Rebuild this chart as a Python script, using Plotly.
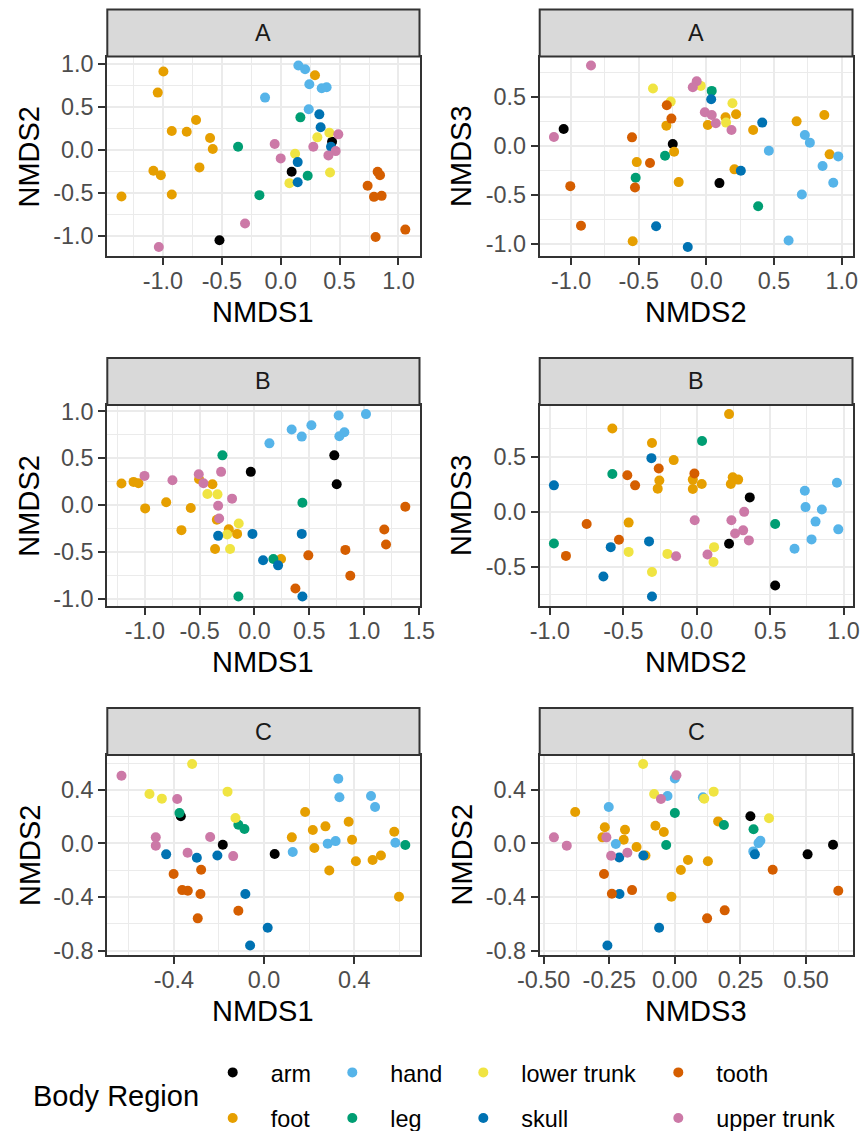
import plotly.graph_objects as go

# ---------------- data ----------------
REGIONS = ["arm", "foot", "hand", "leg", "lower trunk", "skull", "tooth", "upper trunk"]
COLORS = {"arm": "#000000", "foot": "#E69F00", "hand": "#56B4E9", "leg": "#009E73",
          "lower trunk": "#F0E442", "skull": "#0072B2", "tooth": "#D55E00",
          "upper trunk": "#CC79A7"}

# Group A: NMDS1 vs NMDS2
A_12 = {
    "arm": ([0.436, 0.093, -0.520], [0.097, -0.253, -1.051]),
    "foot": ([-0.996, -1.044, -0.719, -0.925, -0.798, -0.600, -0.577, -0.690, -1.081, -1.018, -0.925, -1.352, 0.291],
             [0.914, 0.669, 0.350, 0.222, 0.214, 0.140, 0.012, -0.202, -0.241, -0.292, -0.518, -0.541, 0.872]),
    "hand": ([0.150, 0.207, 0.243, 0.348, 0.390, -0.133, 0.238], [0.984, 0.942, 0.767, 0.720, 0.732, 0.611, 0.475]),
    "leg": ([0.167, -0.362, 0.229, -0.181], [0.381, 0.039, -0.300, -0.525]),
    "lower trunk": ([0.413, 0.311, 0.122, 0.419, 0.074], [0.202, 0.148, -0.043, -0.261, -0.385]),
    "skull": ([0.328, 0.339, 0.427, 0.144, 0.144], [0.416, 0.265, 0.039, -0.140, -0.374]),
    "tooth": ([0.823, 0.843, 0.738, 0.792, 0.857, 0.806, 1.058], [-0.253, -0.292, -0.416, -0.545, -0.533, -1.012, -0.926]),
    "upper trunk": ([0.489, -0.051, 0.277, 0.467, 0.405, 0.000, -0.303, -1.035],
                    [0.183, 0.070, 0.039, -0.012, -0.062, -0.097, -0.856, -1.128]),
}
# Group A: NMDS2 vs NMDS3
A_23 = {
    "arm": ([-1.055, -0.249, 0.096], [0.170, 0.017, -0.381]),
    "foot": ([-0.296, -0.239, -0.515, -0.205, -0.545, 0.010, 0.141, 0.219, 0.345, 0.207, 0.666, 0.871, 0.910],
             [0.204, -0.061, -0.167, -0.371, -0.973, 0.211, 0.289, 0.320, 0.160, -0.241, 0.248, 0.313, -0.088]),
    "hand": ([0.461, 0.727, 0.764, 0.858, 0.974, 0.937, 0.705, 0.607],
             [-0.051, 0.109, 0.031, -0.207, -0.109, -0.378, -0.497, -0.966]),
    "leg": ([0.039, -0.306, -0.523, 0.382], [0.558, -0.102, -0.327, -0.616]),
    "lower trunk": ([-0.395, -0.264, -0.042, 0.192, 0.145], [0.582, 0.449, 0.609, 0.432, 0.235]),
    "skull": ([0.035, 0.412, 0.254, -0.372, -0.138], [0.473, 0.235, -0.255, -0.820, -1.031]),
    "tooth": ([-0.293, -0.259, -0.550, -0.417, -0.528, -1.006, -0.927], [0.412, 0.276, 0.085, -0.177, -0.425, -0.412, -0.816]),
    "upper trunk": ([-0.853, -1.127, -0.072, -0.101, -0.012, 0.039, 0.069, 0.185],
                    [0.816, 0.088, 0.656, 0.595, 0.340, 0.313, 0.228, 0.160]),
}
# Group B: NMDS1 vs NMDS2
B_12 = {
    "arm": ([-0.033, 0.729, 0.751], [0.354, 0.530, 0.222]),
    "foot": ([-1.213, -1.103, -1.058, -0.997, -0.805, -0.581, -0.666, -0.505, -0.383, -0.343, -0.234, -0.158, -0.359, 0.243],
             [0.229, 0.247, 0.233, -0.036, 0.029, -0.032, -0.268, 0.275, 0.222, -0.157, -0.258, -0.308, -0.469, -0.576]),
    "hand": ([0.137, 0.340, 0.432, 0.520, 0.769, 1.018, 0.775, 0.821], [0.658, 0.805, 0.730, 0.852, 0.955, 0.970, 0.733, 0.776]),
    "leg": ([-0.292, 0.438, 0.173, -0.146], [0.530, 0.025, -0.576, -0.977]),
    "lower trunk": ([-0.429, -0.337, -0.143, -0.249, -0.222], [0.118, 0.114, -0.197, -0.315, -0.469]),
    "skull": ([-0.331, -0.018, 0.432, 0.079, 0.216, 0.438], [-0.329, -0.308, -0.308, -0.590, -0.644, -0.977]),
    "tooth": ([1.377, 1.185, 1.201, 0.830, 0.492, 0.875, 0.374], [-0.018, -0.261, -0.422, -0.479, -0.537, -0.755, -0.891]),
    "upper trunk": ([-1.003, -0.748, -0.508, -0.465, -0.304, -0.204, -0.331, -0.322],
                    [0.311, 0.265, 0.329, 0.233, 0.354, 0.068, -0.007, -0.143]),
}
# Group B: NMDS2 vs NMDS3
B_23 = {
    "arm": ([0.361, 0.220, 0.534], [0.131, -0.289, -0.666]),
    "foot": ([-0.575, -0.305, -0.157, 0.220, -0.255, -0.266, -0.027, -0.027, 0.034, 0.245, 0.282, 0.232, -0.464],
             [0.754, 0.623, 0.468, 0.884, 0.283, 0.210, 0.292, 0.207, 0.252, 0.313, 0.292, 0.252, -0.097]),
    "hand": ([0.736, 0.741, 0.852, 0.809, 0.782, 0.666, 0.955, 0.964], [0.191, 0.043, 0.021, -0.088, -0.249, -0.334, 0.264, -0.158]),
    "leg": ([-0.973, -0.575, 0.036, 0.534], [-0.286, 0.343, 0.641, -0.109]),
    "lower trunk": ([-0.464, -0.200, -0.305, 0.118, 0.114], [-0.362, -0.380, -0.544, -0.319, -0.453]),
    "skull": ([-0.973, -0.309, -0.586, -0.636, -0.325, -0.305], [0.240, 0.486, -0.319, -0.584, -0.267, -0.766]),
    "tooth": ([-0.750, -0.891, -0.530, -0.473, -0.420, -0.259, -0.016], [-0.109, -0.398, -0.252, 0.331, 0.240, 0.392, 0.347]),
    "upper trunk": ([-0.014, 0.236, 0.323, 0.261, 0.316, 0.355, -0.141, 0.073],
                    [-0.076, -0.076, 0.000, -0.195, -0.167, -0.258, -0.401, -0.386]),
}
# Group C: NMDS1 vs NMDS2
C_12 = {
    "arm": ([-0.369, -0.183, 0.047], [0.202, -0.010, -0.080]),
    "foot": ([0.182, 0.123, 0.216, 0.272, 0.223, 0.375, 0.390, 0.407, 0.289, 0.481, 0.518, 0.577, 0.598],
             [0.234, 0.045, 0.100, 0.127, -0.035, 0.162, 0.027, -0.134, -0.202, -0.124, -0.090, 0.087, -0.398]),
    "hand": ([0.329, 0.334, 0.474, 0.492, 0.127, 0.282, 0.317, 0.582], [0.483, 0.344, 0.353, 0.271, -0.065, -0.002, 0.017, 0.005]),
    "leg": ([-0.375, -0.114, -0.087, 0.626], [0.227, 0.139, 0.107, -0.012]),
    "lower trunk": ([-0.319, -0.508, -0.453, -0.162, -0.127], [0.592, 0.368, 0.334, 0.386, 0.189]),
    "skull": ([-0.434, -0.298, -0.207, -0.083, 0.016, -0.062], [-0.082, -0.107, -0.090, -0.378, -0.630, -0.762]),
    "tooth": ([-0.401, -0.279, -0.363, -0.338, -0.282, -0.114, -0.294], [-0.229, -0.197, -0.349, -0.354, -0.378, -0.503, -0.560]),
    "upper trunk": ([-0.632, -0.385, -0.480, -0.480, -0.339, -0.239, -0.137], [0.505, 0.331, 0.045, -0.017, -0.070, 0.047, -0.095]),
}
# Group C: NMDS3 vs NMDS2
C_32 = {
    "arm": ([0.288, 0.506, 0.603], [0.202, -0.082, -0.010]),
    "foot": ([-0.380, -0.267, -0.276, -0.190, -0.195, -0.146, -0.112, -0.074, -0.042, 0.050, 0.023, 0.126, 0.165, -0.013],
             [0.234, 0.120, 0.045, 0.102, 0.027, -0.027, -0.090, 0.132, 0.085, -0.124, -0.199, -0.134, 0.164, -0.398]),
    "hand": ([-0.252, 0.000, -0.028, 0.107, -0.225, 0.299, 0.319, 0.326], [0.271, 0.485, 0.353, 0.344, -0.005, -0.060, 0.002, 0.020]),
    "leg": ([0.000, 0.187, 0.300, -0.033], [0.227, 0.137, 0.105, -0.012]),
    "lower trunk": ([-0.121, -0.079, 0.148, 0.112, 0.359], [0.592, 0.368, 0.386, 0.334, 0.187]),
    "skull": ([-0.212, -0.120, 0.305, -0.211, -0.060, -0.257], [-0.105, -0.090, -0.082, -0.378, -0.630, -0.762]),
    "tooth": ([-0.270, 0.373, -0.240, -0.163, 0.190, 0.123, 0.623], [-0.229, -0.197, -0.376, -0.349, -0.500, -0.560, -0.354]),
    "upper trunk": ([-0.461, -0.412, 0.006, -0.053, -0.261, -0.243, -0.181], [0.045, -0.017, 0.508, 0.331, 0.045, -0.092, -0.070]),
}

TICKS_1 = [-1.0, -0.5, 0.0, 0.5, 1.0]
TICKS_B1 = [-1.0, -0.5, 0.0, 0.5, 1.0, 1.5]
TICKS_A3 = [-1.0, -0.5, 0.0, 0.5]
TICKS_B3 = [-0.5, 0.0, 0.5]
TICKS_C1 = [-0.4, 0.0, 0.4]
TICKS_C2 = [-0.8, -0.4, 0.0, 0.4]
TICKS_C3 = [-0.50, -0.25, 0.00, 0.25, 0.50]

# (data, row, col, strip, xlabel, ylabel, xticks, yticks, xdec, ydec)
PANELS = [
    (A_12, 0, 0, "A", "NMDS1", "NMDS2", TICKS_1, TICKS_1, 1, 1),
    (A_23, 0, 1, "A", "NMDS2", "NMDS3", TICKS_1, TICKS_A3, 1, 1),
    (B_12, 1, 0, "B", "NMDS1", "NMDS2", TICKS_B1, TICKS_1, 1, 1),
    (B_23, 1, 1, "B", "NMDS2", "NMDS3", TICKS_1, TICKS_B3, 1, 1),
    (C_12, 2, 0, "C", "NMDS1", "NMDS2", TICKS_C1, TICKS_C2, 1, 1),
    (C_32, 2, 1, "C", "NMDS3", "NMDS2", TICKS_C3, TICKS_C2, 2, 1),
]

# ---------------- layout geometry (page pixels) ----------------
W, H = 863, 1131
COL_X = [(107.3, 419.5), (539.7, 852.5)]
ROW_Y = [(56.5, 256.0), (405.0, 605.7), (755.0, 954.5)]
STRIP_H = 47
FONT = "Liberation Sans, Arial, sans-serif"
GRID = "#EBEBEB"
DARK = "#333333"

def px_x(p):
    return p / W

def px_y(p):
    return 1 - p / H

def expand(vals):
    lo, hi = min(vals), max(vals)
    d = (hi - lo) * 0.05
    return [lo - d, hi + d]

def minor_ticks(ticks, rng):
    step = ticks[1] - ticks[0]
    cands = [t - step / 2 for t in ticks] + [ticks[-1] + step / 2]
    return [c for c in cands if rng[0] <= c <= rng[1]]

def fmt(v, dec):
    s = f"{v:.{dec}f}"
    if s.startswith("-") and float(s) == 0:
        s = s[1:]
    return s

fig = go.Figure()
layout = dict(width=W, height=H, margin=dict(l=0, r=0, t=0, b=0, autoexpand=False),
              paper_bgcolor="white", plot_bgcolor="white",
              font=dict(family=FONT), showlegend=True)
shapes, annotations = [], []

for i, (data, r, c, strip, xl, yl, xt, yt, xd, yd) in enumerate(PANELS):
    n = i + 1
    xs = [v for reg in REGIONS for v in data[reg][0]]
    ys = [v for reg in REGIONS for v in data[reg][1]]
    xr, yr = expand(xs), expand(ys)
    x0, x1 = COL_X[c]
    y0, y1 = ROW_Y[r]
    axcommon = dict(showline=True, mirror=True, linecolor=DARK, linewidth=2,
                    ticks="outside", ticklen=7, tickwidth=2, tickcolor=DARK,
                    showgrid=True, gridcolor=GRID, gridwidth=2, zeroline=False,
                    tickfont=dict(size=23.4, color="#4D4D4D", family=FONT),
                    tickmode="array", fixedrange=True, automargin=False)
    layout[f"xaxis{n}"] = dict(axcommon, domain=[px_x(x0), px_x(x1)], range=xr,
                               anchor=f"y{n}", tickvals=xt, ticktext=[fmt(v, xd) for v in xt],
                               ticklabelstandoff=-4, ticklabeloverflow="allow",
                               minor=dict(tickmode="array", tickvals=minor_ticks(xt, xr),
                                          showgrid=True, gridcolor=GRID, gridwidth=1, ticks=""))
    layout[f"yaxis{n}"] = dict(axcommon, domain=[px_y(y1), px_y(y0)], range=yr,
                               anchor=f"x{n}", tickvals=yt, ticktext=[fmt(v, yd) for v in yt],
                               minor=dict(tickmode="array", tickvals=minor_ticks(yt, yr),
                                          showgrid=True, gridcolor=GRID, gridwidth=1, ticks=""))
    for k, reg in enumerate(REGIONS):
        lg = "legend" if k == 0 else f"legend{k + 1}"
        fig.add_trace(go.Scatter(
            x=data[reg][0], y=data[reg][1], mode="markers", name=reg,
            xaxis=f"x{n}", yaxis=f"y{n}",
            marker=dict(color=COLORS[reg], size=10, line=dict(width=0)),
            legendgroup=reg, showlegend=(i == 0), legend=lg))
    # strip
    shapes.append(dict(type="rect", xref="paper", yref="paper",
                       x0=px_x(x0), x1=px_x(x1), y0=px_y(y0), y1=px_y(y0 - STRIP_H),
                       fillcolor="#D9D9D9", line=dict(color=DARK, width=2), layer="above"))
    annotations.append(dict(text=strip, xref="paper", yref="paper",
                            x=px_x((x0 + x1) / 2), y=px_y(y0 - STRIP_H / 2),
                            xanchor="center", yanchor="middle", showarrow=False,
                            font=dict(size=23.4, color="#1A1A1A", family=FONT)))
    # axis titles
    annotations.append(dict(text=xl, xref="paper", yref="paper",
                            x=px_x((x0 + x1) / 2), y=px_y(y1 + 56),
                            xanchor="center", yanchor="middle", showarrow=False,
                            font=dict(size=29, color="black", family=FONT)))
    annotations.append(dict(text=yl, xref="paper", yref="paper",
                            x=px_x(x0 - 78), y=px_y((y0 + y1) / 2), textangle=-90,
                            xanchor="center", yanchor="middle", showarrow=False,
                            font=dict(size=29, color="black", family=FONT)))

# legend: 4 columns x 2 rows, one legend box per entry
LEG_COL_X = [232.7, 352.3, 483.3, 678.3]
LEG_ROW_Y = [1072.7, 1118.3]
for k, reg in enumerate(REGIONS):
    lg = "legend" if k == 0 else f"legend{k + 1}"
    cx, cy = LEG_COL_X[k // 2], LEG_ROW_Y[k % 2]
    layout[lg] = dict(x=px_x(cx - 38), y=px_y(cy), xanchor="left", yanchor="middle",
                      orientation="v", itemwidth=66, bgcolor="rgba(0,0,0,0)", borderwidth=0,
                      font=dict(size=23.4, color="black", family=FONT))
annotations.append(dict(text="Body Region", xref="paper", yref="paper",
                        x=px_x(30.7), y=px_y(1095.7), xanchor="left", yanchor="middle",
                        showarrow=False, font=dict(size=29, color="black", family=FONT)))

layout["shapes"] = shapes
layout["annotations"] = annotations
fig.update_layout(**layout)
# remove the default page margin so the 863x1131 figure fills the window exactly
fig.write_html("out.html",
               config={"displayModeBar": False},
               post_script="document.body.style.margin='0';"
                           "document.documentElement.style.overflow='hidden';")
